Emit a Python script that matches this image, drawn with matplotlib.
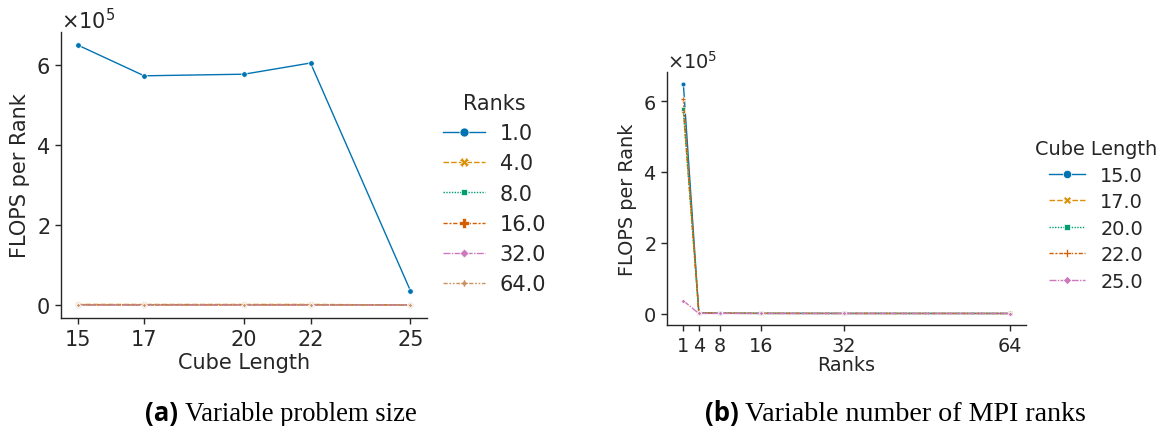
import matplotlib
matplotlib.use("Agg")
import matplotlib.pyplot as plt

# ---- data ---- #
cube_lengths = [15, 17, 20, 22, 25]
ranks = [1, 4, 8, 16, 32, 64]

# FLOPS per rank, one list per rank count (index matches cube_lengths)
flops_r1 = [650000, 573000, 577000, 605000, 36000]
flops_r4 = [1500, 1350, 1400, 1450, 90]
flops_r8 = [700, 650, 680, 690, 45]
flops_r16 = [350, 330, 340, 345, 22]
flops_r32 = [170, 160, 165, 170, 11]
flops_r64 = [85, 80, 82, 84, 6]
flops_by_rank = [flops_r1, flops_r4, flops_r8, flops_r16, flops_r32, flops_r64]

rank_labels = ["1.0", "4.0", "8.0", "16.0", "32.0", "64.0"]
cube_labels = ["15.0", "17.0", "20.0", "22.0", "25.0"]

caption_a = ("(a)", "Variable problem size")
caption_b = ("(b)", "Variable number of MPI ranks")

# seaborn colorblind palette + default marker / dash cycle
colors = ["#0173B2", "#DE8F05", "#029E73", "#D55E00", "#CC78BC", "#CA9161"]
markers = ["o", "X", (4, 0, 45), "P", (4, 0, 0), (4, 1, 0)]
dashes = [(None, None), (4, 1.5), (1, 1), (3, 1.25, 1.5, 1.25),
          (5, 1, 1, 1), (3, 1.25, 1.25, 1.25, 1.25, 1.25)]

TXT = "#262626"
plt.rcParams.update({
    "font.family": "DejaVu Sans",
    "text.color": TXT,
    "axes.labelcolor": TXT,
    "axes.edgecolor": TXT,
    "xtick.color": TXT,
    "ytick.color": TXT,
})

fig = plt.figure(figsize=(11.65, 4.27), dpi=100)
W, H = 1165, 427


def px_axes(l, t, r, b):
    return fig.add_axes([l / W, 1 - b / H, (r - l) / W, (b - t) / H])


def anchor(ax, x, y):
    # pixel position -> axes fraction, for legend placement
    l, b, w, h = ax.get_position().bounds
    return ((x / W - l) / w, ((1 - y / H) - b) / h)


def style(ax, fs):
    for s in ("top", "right"):
        ax.spines[s].set_visible(False)
    for s in ("left", "bottom"):
        ax.spines[s].set_linewidth(1.0)
    ax.tick_params(labelsize=fs, length=4.5, width=1.0)
    ax.ticklabel_format(style="sci", axis="y", scilimits=(0, 0), useMathText=True)
    ax.yaxis.get_offset_text().set_fontsize(fs)
    ax.set_yticks([0, 200000, 400000, 600000])


def draw(ax, xs, ys, i, ms):
    d = dashes[i]
    line, = ax.plot(xs, ys, color=colors[i], lw=1.0, marker=markers[i],
                    markersize=ms, markeredgecolor="white", markeredgewidth=0.5)
    if d[0] is not None:
        line.set_dashes(d)
    return line


# ---- (a) variable problem size ---- #
fs_a = 15
ax1 = px_axes(61, 33, 427, 319)
for i, ys in enumerate(flops_by_rank):
    draw(ax1, cube_lengths, ys, i, 4.0)
style(ax1, fs_a)
ax1.set_xticks(cube_lengths)
ax1.set_xlabel("Cube Length", fontsize=fs_a, labelpad=2)
ax1.set_ylabel("FLOPS per Rank", fontsize=fs_a)
leg1 = ax1.legend(rank_labels, title="Ranks", fontsize=fs_a, title_fontsize=fs_a,
                  frameon=False, loc="upper left", bbox_to_anchor=anchor(ax1, 443, 94),
                  borderaxespad=0, borderpad=0, handlelength=2.0,
                  handletextpad=0.72, labelspacing=0.49)
for h in leg1.legend_handles:
    h.set_markersize(6.5)

# ---- (b) variable number of MPI ranks ---- #
fs_b = 13.9
ax2 = px_axes(667, 73, 1026, 326)
for j in range(len(cube_lengths)):
    ys = [flops_by_rank[k][j] for k in range(len(ranks))]
    draw(ax2, ranks, ys, j, 3.5)
style(ax2, fs_b)
ax2.set_xticks(ranks)
ax2.set_xlabel("Ranks", fontsize=fs_b, labelpad=0)
ax2.set_ylabel("FLOPS per Rank", fontsize=fs_b)
leg2 = ax2.legend(cube_labels, title="Cube Length", fontsize=fs_b, title_fontsize=fs_b,
                  frameon=False, loc="upper left", bbox_to_anchor=anchor(ax2, 1035, 140),
                  borderaxespad=0, borderpad=0, handlelength=1.85,
                  handletextpad=0.8, labelspacing=0.39)
for h in leg2.legend_handles:
    h.set_markersize(6)

# ---- captions ---- #
for (tag, text), x_tag, x_txt, fs in ((caption_a, 145, 185, 19.2),
                                      (caption_b, 705, 745, 20.2)):
    fig.text(x_tag / W, 1 - 421 / H, tag, fontsize=18.5, fontweight="bold",
             family="Open Sans", va="baseline", ha="left", color="black")
    fig.text(x_txt / W, 1 - 421 / H, text, fontsize=fs,
             family="Liberation Serif", va="baseline", ha="left", color="black")

fig.savefig("out.png", dpi=100)
